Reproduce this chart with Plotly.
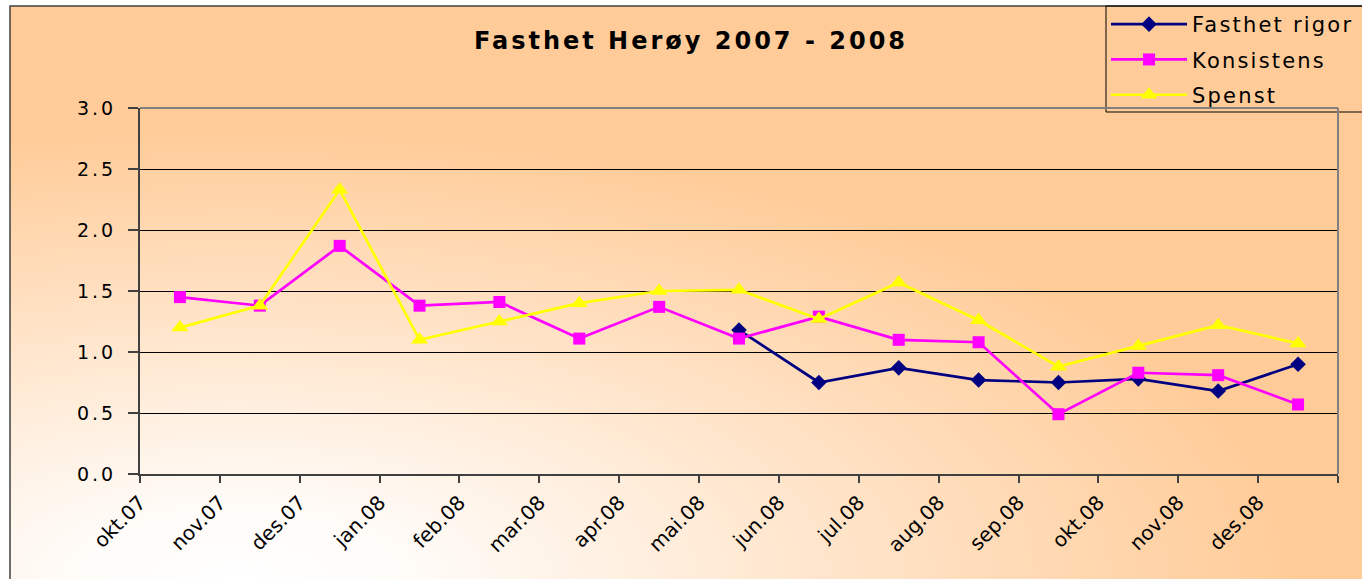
import base64
import plotly.graph_objects as go

# ---- data ----
months = ["okt.07", "nov.07", "des.07", "jan.08", "feb.08", "mar.08", "apr.08",
          "mai.08", "jun.08", "jul.08", "aug.08", "sep.08", "okt.08", "nov.08", "des.08"]
fasthet_rigor = [None, None, None, None, None, None, None,
                 1.18, 0.75, 0.87, 0.77, 0.75, 0.78, 0.68, 0.90]
konsistens = [1.45, 1.38, 1.87, 1.38, 1.41, 1.11, 1.37, 1.11, 1.29, 1.10, 1.08, 0.49, 0.83, 0.81, 0.57]
spenst = [1.20, 1.38, 2.33, 1.10, 1.25, 1.40, 1.50, 1.51, 1.27, 1.57, 1.26, 0.88, 1.05, 1.22, 1.07]
y_ticks = [0.0, 0.5, 1.0, 1.5, 2.0, 2.5, 3.0]

x_pos = [i + 0.5 for i in range(len(months))]

W, H = 1362, 579
L, R, T, B = 140, 24, 108, 105
PW, PH = W - L - R, H - T - B


def px_x(px):
    return (px - L) / PW


def px_y(py):
    return (H - B - py) / PH


fig = go.Figure()
series = [
    ("Fasthet rigor", fasthet_rigor, "#000080", "diamond", 12),
    ("Konsistens", konsistens, "#FF00FF", "square", 12),
    ("Spenst", spenst, "#FFFF00", "triangle-up", 15),
]
for name, vals, col, sym, sz in series:
    fig.add_trace(go.Scatter(
        x=x_pos, y=vals, name=name, mode="lines+markers", legendgroup=name,
        line=dict(color=col, width=2.7),
        marker=dict(symbol=sym, size=sz, color=col),
        connectgaps=False,
    ))

# background gradient (white at bottom-left, orange elsewhere)
svg = (
    '<svg xmlns="http://www.w3.org/2000/svg" width="1352" height="573" viewBox="0 0 1352 573" '
    'preserveAspectRatio="none"><defs><radialGradient id="g" cx="0.17" cy="1.0" r="0.78">'
    '<stop offset="0" stop-color="#FFFFFF"/><stop offset="0.15" stop-color="#FFFCF9"/>'
    '<stop offset="1" stop-color="#FFCC99"/></radialGradient></defs>'
    '<rect width="1352" height="573" fill="url(#g)"/></svg>'
)
src = "data:image/svg+xml;base64," + base64.b64encode(svg.encode()).decode()
fig.add_layout_image(dict(
    source=src, xref="paper", yref="paper",
    x=px_x(10), y=px_y(6), sizex=(W - 10) / PW, sizey=(H - 6) / PH,
    xanchor="left", yanchor="top", sizing="stretch", layer="below",
))

# outer chart border
fig.add_shape(type="rect", xref="paper", yref="paper",
              x0=px_x(10), y0=px_y(H + 20), x1=px_x(W + 20), y1=px_y(6),
              line=dict(color="#404040", width=1.5), layer="above")
# legend border (extends past the right edge like the reference)
fig.add_shape(type="rect", xref="paper", yref="paper",
              x0=px_x(1106), y0=px_y(112), x1=px_x(W + 20), y1=px_y(6),
              line=dict(color="black", width=1), layer="above")
# plot area top & right border
fig.add_shape(type="line", xref="paper", yref="paper", x0=0, y0=1, x1=1, y1=1,
              line=dict(color="#808080", width=2), layer="above")
fig.add_shape(type="line", xref="paper", yref="paper", x0=1, y0=0, x1=1, y1=1,
              line=dict(color="#808080", width=2), layer="above")

font_family = "DejaVu Sans"
fig.update_layout(
    width=W, height=H,
    margin=dict(l=L, r=R, t=T, b=B, autoexpand=False),
    paper_bgcolor="white", plot_bgcolor="rgba(0,0,0,0)",
    title=dict(text="<b>Fasthet Herøy 2007 - 2008</b>", xref="container", yref="container",
               x=691 / W, y=1 - 41 / H, xanchor="center", yanchor="middle",
               font=dict(family=font_family, size=24, color="black")),
    legend=dict(xref="container", yref="container", x=1106 / W, y=1 - 4 / H,
                xanchor="left", yanchor="top", bgcolor="rgba(0,0,0,0)",
                borderwidth=0, itemwidth=76, tracegroupgap=5,
                font=dict(family=font_family, size=21, color="black")),
    xaxis=dict(range=[0, len(months)], tickmode="array",
               tickvals=list(range(len(months) + 1)), ticktext=months + [""],
               tickangle=-45, ticks="outside", ticklen=7, tickcolor="#404040", tickwidth=1.5,
               showgrid=False, zeroline=False, showline=True, linecolor="#404040", linewidth=2,
               tickfont=dict(family=font_family, size=20, color="black")),
    yaxis=dict(range=[0, 3], tickmode="array", tickvals=y_ticks, tickformat=".1f",
               ticks="outside", ticklen=10, tickcolor="#404040", tickwidth=1.5,
               ticklabelstandoff=8,
               showgrid=True, gridcolor="black", gridwidth=1, zeroline=False,
               showline=True, linecolor="#404040", linewidth=2,
               tickfont=dict(family=font_family, size=19, color="black")),
    showlegend=True,
)

post = """
document.body.style.margin='0';
var st=document.createElement('style');
st.textContent='.gtitle{letter-spacing:3px} .ytick text{letter-spacing:3px} .legendtext{letter-spacing:2.2px}';
document.head.appendChild(st);
var gd=document.getElementById('{plot_id}');
function unclip(){
  document.querySelectorAll('.legend .scrollbox, .legend').forEach(function(e){e.removeAttribute('clip-path');});
}
unclip();
if(gd && gd.on){gd.on('plotly_afterplot', unclip);}
setTimeout(unclip, 50);
"""
fig.write_html("out.html", post_script=post, config={"displayModeBar": False})
